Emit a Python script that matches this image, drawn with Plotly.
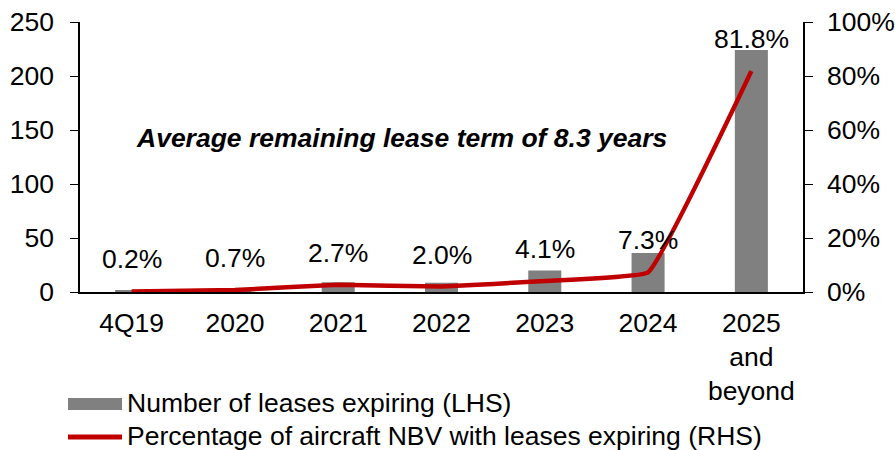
import plotly.graph_objects as go

categories = ["4Q19", "2020", "2021", "2022", "2023", "2024", "2025<br>and<br>beyond"]
leases_expiring = [1, 2, 9, 8.5, 20, 36, 224]
nbv_pct = [0.2, 0.7, 2.7, 2.0, 4.1, 7.3, 81.8]
pct_labels = ["0.2%", "0.7%", "2.7%", "2.0%", "4.1%", "7.3%", "81.8%"]
bar_name = "Number of leases expiring (LHS)"
line_name = "Percentage of aircraft NBV with leases expiring (RHS)"

FONT = "Liberation Sans, Arial, sans-serif"
FS = 26.5
BAR_COLOR = "#808080"
LINE_COLOR = "#C00000"

xpos = list(range(len(categories)))

fig = go.Figure()
fig.add_trace(go.Bar(
    x=xpos, y=leases_expiring, name=bar_name,
    marker=dict(color=BAR_COLOR, line=dict(width=0)), width=0.32, yaxis="y",
))
fig.add_trace(go.Scatter(
    x=xpos, y=nbv_pct, name=line_name,
    mode="lines", line=dict(color=LINE_COLOR, width=4.5, shape="spline", smoothing=0.25),
    yaxis="y2",
))

for xi, v, t in zip(xpos, nbv_pct, pct_labels):
    fig.add_annotation(x=xi, y=v, yref="y2", text=t, showarrow=False, yshift=32,
                       font=dict(family=FONT, size=FS, color="black"))

fig.add_annotation(x=0.444, y=0.57, xref="paper", yref="paper",
                   text="<b><i>Average remaining lease term of 8.3 years</i></b>",
                   showarrow=False, font=dict(family=FONT, size=FS, color="black"))

# manual legend (paper coordinates)
fig.add_shape(type="rect", xref="paper", yref="paper", x0=-0.0166, x1=0.0581,
              y0=-0.437, y1=-0.3926, fillcolor=BAR_COLOR, line=dict(width=0))
fig.add_shape(type="line", xref="paper", yref="paper", x0=-0.0166, x1=0.0581,
              y0=-0.537, y1=-0.537, line=dict(color=LINE_COLOR, width=5))
fig.add_annotation(x=0.062, y=-0.411, xref="paper", yref="paper", text=bar_name,
                   showarrow=False, xanchor="left", yanchor="middle",
                   font=dict(family=FONT, size=FS, color="black"))
fig.add_annotation(x=0.062, y=-0.533, xref="paper", yref="paper", text=line_name,
                   showarrow=False, xanchor="left", yanchor="middle",
                   font=dict(family=FONT, size=FS, color="black"))

fig.update_layout(
    width=895, height=450,
    margin=dict(l=80, r=92, t=22, b=158, autoexpand=False),
    paper_bgcolor="white", plot_bgcolor="white",
    font=dict(family=FONT, size=FS, color="black"),
    showlegend=False,
    xaxis=dict(range=[-0.5, len(categories) - 0.5], tickvals=xpos, ticktext=categories,
               showline=True, linecolor="black", linewidth=1.5, ticks="",
               ticklabelstandoff=6,
               tickfont=dict(size=FS), showgrid=False, zeroline=False, automargin=False),
    yaxis=dict(range=[0, 250], dtick=50, showline=True, linecolor="black", linewidth=1.5,
               ticks="outside", ticklen=8, tickcolor="black", showgrid=False,
               ticklabelstandoff=11,
               zeroline=False, tickfont=dict(size=FS), automargin=False),
    yaxis2=dict(range=[0, 100], dtick=20, ticksuffix="%", overlaying="y", side="right",
                showline=True, linecolor="black", linewidth=1.5, ticks="outside", ticklen=8,
                ticklabelstandoff=9,
                tickcolor="black", showgrid=False, zeroline=False, tickfont=dict(size=FS),
                automargin=False),
)

fig.write_html("out.html", config={"displayModeBar": False},
               post_script="document.body.style.margin='0';")
